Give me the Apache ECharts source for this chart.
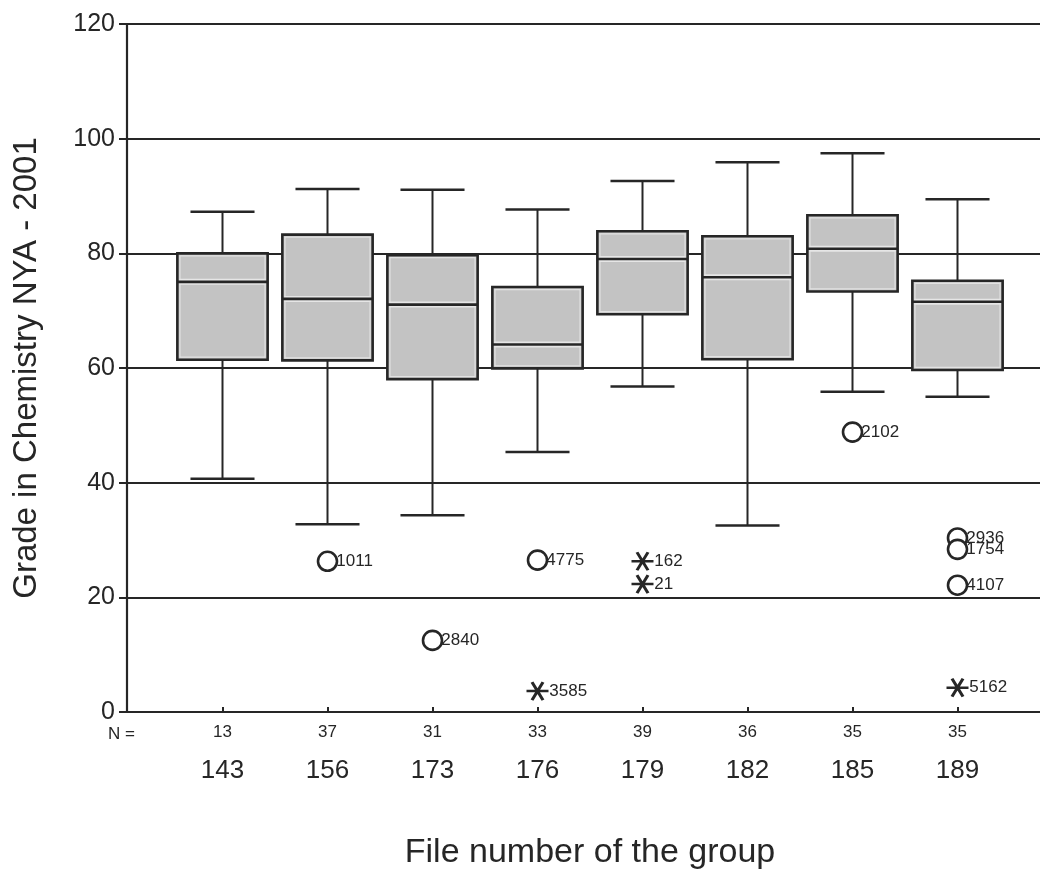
<!DOCTYPE html>
<html>
<head>
<meta charset="utf-8">
<title>Grade in Chemistry NYA - 2001</title>
<script src="https://cdn.jsdelivr.net/npm/echarts@6/dist/echarts.min.js"></script>
<style>
  html, body { margin: 0; padding: 0; background: #ffffff; }
  #chart { width: 1040px; height: 875px; }
</style>
</head>
<body>
<div id="chart"></div>
<script>
// Group file numbers and number of students per group
const groups = ['143', '156', '173', '176', '179', '182', '185', '189'];
const counts = [13, 37, 31, 33, 39, 36, 35, 35];

// Five-number summaries per group (whisker ends, quartiles, median)
const whiskerLow  = [40.1, 32.1, 33.7, 44.8, 56.3, 31.9, 55.4, 54.5];
const quartile1   = [61.0, 60.9, 57.6, 59.5, 69.0, 61.1, 73.0, 59.2];
const medians     = [74.7, 71.7, 70.7, 63.7, 78.7, 75.5, 80.5, 71.2];
const quartile3   = [79.7, 83.0, 79.4, 73.8, 83.6, 82.7, 86.4, 74.9];
const whiskerHigh = [87.0, 91.0, 90.9, 87.4, 92.4, 95.7, 97.3, 89.2];

// Outliers (circles) and extreme values (stars): [group index, grade, case id]
const outliers = [
  [1, 25.6, '1011'],
  [2, 11.7, '2840'],
  [3, 25.8, '4775'],
  [6, 48.3, '2102'],
  [7, 29.7, '2936'],
  [7, 27.7, '1754'],
  [7, 21.4, '4107']
];
const extremes = [
  [3, 2.8, '3585'],
  [4, 25.6, '162'],
  [4, 21.6, '21'],
  [7, 3.4, '5162']
];

// Value axis ticks
const yTicks = { min: 0, max: 120, interval: 20 };

const ink = '#262626';
const boxFill = '#c3c3c3';
const font = 'Liberation Sans, Arial, Helvetica, sans-serif';
const narrow = 'Liberation Sans Narrow, Arial Narrow, Liberation Sans, Arial, sans-serif';

const boxData = groups.map((g, i) => [i, whiskerLow[i], quartile1[i], medians[i], quartile3[i], whiskerHigh[i]]);

function renderBox(params, api) {
  const idx = api.value(0);
  const lo = api.coord([idx, api.value(1)]);
  const b = api.coord([idx, api.value(2)]);
  const m = api.coord([idx, api.value(3)]);
  const t = api.coord([idx, api.value(4)]);
  const hi = api.coord([idx, api.value(5)]);
  const band = api.size([1, 0])[0];
  const bw = band * 0.86;
  const cw = band * 0.61;
  const cx = lo[0];
  const lineStyle = { stroke: ink, lineWidth: 2 };
  return {
    type: 'group',
    children: [
      { type: 'line', shape: { x1: cx, y1: hi[1], x2: cx, y2: t[1] }, style: lineStyle },
      { type: 'line', shape: { x1: cx, y1: b[1], x2: cx, y2: lo[1] }, style: lineStyle },
      { type: 'line', shape: { x1: cx - cw / 2, y1: hi[1], x2: cx + cw / 2, y2: hi[1] }, style: { stroke: ink, lineWidth: 2.5 } },
      { type: 'line', shape: { x1: cx - cw / 2, y1: lo[1], x2: cx + cw / 2, y2: lo[1] }, style: { stroke: ink, lineWidth: 2.5 } },
      {
        type: 'rect',
        shape: { x: cx - bw / 2, y: t[1], width: bw, height: b[1] - t[1] },
        style: { fill: boxFill, stroke: ink, lineWidth: 2.6 }
      },
      {
        type: 'rect',
        shape: { x: cx - bw / 2 + 2.6, y: t[1] + 2.6, width: bw - 5.2, height: b[1] - t[1] - 5.2 },
        style: { fill: 'none', stroke: '#e2e2e2', lineWidth: 1.2 }
      },
      {
        type: 'line',
        shape: { x1: cx - bw / 2 + 2, y1: m[1], x2: cx + bw / 2 - 2, y2: m[1] },
        style: { stroke: '#e6e6e6', lineWidth: 6 }
      },
      {
        type: 'line',
        shape: { x1: cx - bw / 2, y1: m[1], x2: cx + bw / 2, y2: m[1] },
        style: { stroke: ink, lineWidth: 2.6 }
      }
    ]
  };
}

const starPath = 'path://M0,10L20,10M5,1.34L15,18.66M15,1.34L5,18.66';

const pointLabel = {
  show: true,
  position: 'right',
  distance: -2,
  color: ink,
  fontFamily: font,
  fontSize: 17,
  formatter: p => p.value[2]
};

const chart = echarts.init(document.getElementById('chart'), null, { renderer: 'canvas' });

chart.setOption({
  backgroundColor: '#ffffff',
  animation: false,
  grid: [
    // frame with the grade scale and horizontal rules
    { left: 127, top: 24, height: 688, width: 1100 },
    // group boxes
    { left: 170, top: 24, height: 688, width: 840 }
  ],
  xAxis: [
    { gridIndex: 0, type: 'value', show: false, min: 0, max: 1 },
    {
      gridIndex: 1,
      type: 'category',
      data: groups,
      boundaryGap: true,
      axisLine: { show: false },
      axisTick: { show: true, alignWithLabel: true, length: 6, lineStyle: { color: ink, width: 2 } },
      axisLabel: {
        margin: 10,
        formatter: (val, i) => '{n|' + counts[i] + '}\n{c|' + val + '}',
        rich: {
          n: { fontSize: 17, lineHeight: 30, color: ink, fontFamily: narrow },
          c: { fontSize: 26, lineHeight: 48, color: ink, fontFamily: narrow }
        }
      },
      splitLine: { show: false },
      name: 'File number of the group',
      nameLocation: 'middle',
      nameGap: 129,
      nameTextStyle: { fontSize: 34, color: ink, fontFamily: font }
    }
  ],
  yAxis: [
    {
      gridIndex: 0,
      type: 'value',
      min: yTicks.min,
      max: yTicks.max,
      interval: yTicks.interval,
      axisLine: { show: true, lineStyle: { color: ink, width: 2.2 } },
      axisTick: { show: true, length: 8, lineStyle: { color: ink, width: 2 } },
      axisLabel: { margin: 12, fontSize: 25, color: ink, fontFamily: font },
      splitLine: { show: true, lineStyle: { color: ink, width: 2 } },
      name: 'Grade in Chemistry NYA - 2001',
      nameLocation: 'middle',
      nameGap: 84,
      nameTextStyle: { fontSize: 33, color: ink, fontFamily: font }
    },
    {
      gridIndex: 1,
      type: 'value',
      min: yTicks.min,
      max: yTicks.max,
      interval: yTicks.interval,
      show: false
    }
  ],
  graphic: [
    {
      type: 'text',
      left: 108,
      top: 726,
      style: { text: 'N =', fontSize: 17, fill: ink, fontFamily: narrow }
    }
  ],
  series: [
    {
      type: 'custom',
      xAxisIndex: 1,
      yAxisIndex: 1,
      renderItem: renderBox,
      encode: { x: 0, y: [1, 2, 3, 4, 5] },
      data: boxData,
      z: 3
    },
    {
      type: 'scatter',
      xAxisIndex: 1,
      yAxisIndex: 1,
      symbol: 'circle',
      symbolSize: 19,
      itemStyle: { color: '#ffffff', borderColor: ink, borderWidth: 2.6, opacity: 1 },
      label: pointLabel,
      data: outliers,
      z: 4
    },
    {
      type: 'scatter',
      xAxisIndex: 1,
      yAxisIndex: 1,
      symbol: starPath,
      symbolSize: [22, 18],
      itemStyle: { color: 'none', borderColor: ink, borderWidth: 2.8, opacity: 1 },
      label: pointLabel,
      data: extremes,
      z: 4
    }
  ]
});
</script>
</body>
</html>
